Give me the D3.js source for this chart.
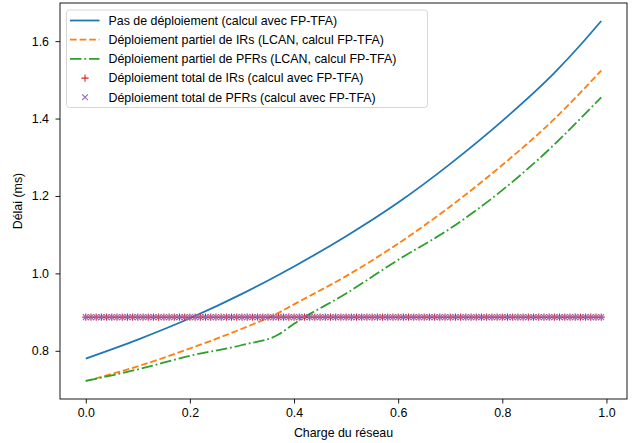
<!DOCTYPE html>
<html>
<head>
<meta charset="utf-8">
<script src="https://cdn.jsdelivr.net/npm/d3@7"></script>
<style>
  body { margin: 0; background: #fff; }
  svg { display: block; font-family: "Liberation Sans", Arial, Helvetica, sans-serif; }
</style>
</head>
<body>
<div id="chart"></div>
<script>
// valeurs
var charge = [0, 0.1, 0.2, 0.3, 0.37, 0.4, 0.5, 0.6, 0.7, 0.8, 0.9, 0.95, 0.99];
var pasDeploiement = [0.780, 0.829, 0.884, 0.947, 0.996, 1.018, 1.096, 1.183, 1.283, 1.394, 1.518, 1.590, 1.652];
var partielIR = [0.722, 0.760, 0.806, 0.857, 0.898, 0.920, 0.993, 1.077, 1.173, 1.280, 1.399, 1.467, 1.524];
var partielPFR = [0.722, 0.752, 0.787, 0.815, 0.842, 0.870, 0.948, 1.035, 1.116, 1.215, 1.333, 1.400, 1.455];
var totalCharge = d3.range(0, 100).map(function (i) { return i / 100; });
var totalIR = totalCharge.map(function () { return 0.887; });
var totalPFR = totalCharge.map(function () { return 0.887; });

var xTicks = [0, 0.2, 0.4, 0.6, 0.8, 1.0];
var yTicks = [0.8, 1.0, 1.2, 1.4, 1.6];

var labels = [
  "Pas de déploiement (calcul avec FP-TFA)",
  "Déploiement partiel de IRs (LCAN, calcul FP-TFA)",
  "Déploiement partiel de PFRs (LCAN, calcul FP-TFA)",
  "Déploiement total de IRs (calcul avec FP-TFA)",
  "Déploiement total de PFRs (calcul avec FP-TFA)"
];

var width = 632, height = 443;
var mLeft = 60, mRight = 627, mTop = 3, mBottom = 399;
var fontSize = 12.4;

var svg = d3.select("#chart").append("svg")
  .attr("width", width)
  .attr("height", height);

var x = d3.scaleLinear().domain([-0.0495, 1.0395]).range([mLeft, mRight]);
var y = d3.scaleLinear().domain([0.6755, 1.6985]).range([mBottom, mTop]);

// axes
var xAxis = d3.axisBottom(x).tickValues(xTicks).tickFormat(d3.format(".1f"))
  .tickSizeOuter(0).tickSize(4.5).tickPadding(4.5);
var yAxis = d3.axisLeft(y).tickValues(yTicks).tickFormat(d3.format(".1f"))
  .tickSizeOuter(0).tickSize(4.5).tickPadding(6.5);

var gx = svg.append("g").attr("transform", "translate(0," + mBottom + ")").call(xAxis);
var gy = svg.append("g").attr("transform", "translate(" + mLeft + ",0)").call(yAxis);
[gx, gy].forEach(function (g) {
  g.select(".domain").remove();
  g.selectAll("line").attr("stroke", "#000").attr("stroke-width", 0.9);
  g.selectAll("text").attr("fill", "#000").style("font-size", fontSize + "px").attr("font-family", null);
});

// cadre
svg.append("rect")
  .attr("x", mLeft).attr("y", mTop)
  .attr("width", mRight - mLeft).attr("height", mBottom - mTop)
  .attr("fill", "none").attr("stroke", "#000").attr("stroke-width", 0.9);

var plot = svg.append("g");

var series = [
  { values: pasDeploiement, color: "#1f77b4", dash: null },
  { values: partielIR, color: "#ff7f0e", dash: "6.7,2.9" },
  { values: partielPFR, color: "#2ca02c", dash: "11.5,2.9,1.8,2.9" }
];

var line = d3.line()
  .x(function (d) { return x(d[0]); })
  .y(function (d) { return y(d[1]); })
  .curve(d3.curveMonotoneX);

series.forEach(function (s) {
  plot.append("path")
    .datum(charge.map(function (c, i) { return [c, s.values[i]]; }))
    .attr("d", line)
    .attr("fill", "none")
    .attr("stroke", s.color)
    .attr("stroke-width", 1.8)
    .attr("stroke-dasharray", s.dash);
});

function plusPath(r) {
  return "M" + (-r) + ",0H" + r + "M0," + (-r) + "V" + r;
}
function crossPath(r) {
  return "M" + (-r) + "," + (-r) + "L" + r + "," + r + "M" + (-r) + "," + r + "L" + r + "," + (-r);
}

// marqueurs + (IRs)
plot.append("g").selectAll("path")
  .data(totalCharge)
  .join("path")
  .attr("transform", function (d, i) { return "translate(" + x(d) + "," + y(totalIR[i]) + ")"; })
  .attr("d", plusPath(3.6))
  .attr("stroke", "#d62728")
  .attr("stroke-width", 1.1)
  .attr("fill", "none");

// marqueurs x (PFRs)
plot.append("g").selectAll("path")
  .data(totalCharge)
  .join("path")
  .attr("transform", function (d, i) { return "translate(" + x(d) + "," + y(totalPFR[i]) + ")"; })
  .attr("d", crossPath(2.9))
  .attr("stroke", "#9467bd")
  .attr("stroke-width", 1.1)
  .attr("fill", "none");

// légende
var legend = svg.append("g");
legend.append("rect")
  .attr("x", 66.5).attr("y", 10)
  .attr("width", 361).attr("height", 97.5)
  .attr("rx", 3)
  .attr("fill", "#fff").attr("fill-opacity", 0.8)
  .attr("stroke", "#d6d6d6").attr("stroke-width", 1);

var rowY = d3.range(5).map(function (i) { return 20.5 + i * 19.2; });

series.forEach(function (s, i) {
  legend.append("line")
    .attr("x1", 70).attr("x2", 99.5)
    .attr("y1", rowY[i]).attr("y2", rowY[i])
    .attr("stroke", s.color).attr("stroke-width", 1.8)
    .attr("stroke-dasharray", s.dash);
});
legend.append("path")
  .attr("transform", "translate(85," + rowY[3] + ")")
  .attr("d", plusPath(3.6)).attr("stroke", "#d62728").attr("stroke-width", 1.1);
legend.append("path")
  .attr("transform", "translate(85," + rowY[4] + ")")
  .attr("d", crossPath(2.9)).attr("stroke", "#9467bd").attr("stroke-width", 1.1);

legend.selectAll("text.lab")
  .data(labels)
  .join("text")
  .attr("class", "lab")
  .attr("x", 108.5)
  .attr("y", function (d, i) { return rowY[i]; })
  .attr("dy", "0.35em")
  .style("font-size", fontSize + "px")
  .attr("fill", "#000")
  .text(function (d) { return d; });

// titres des axes
svg.append("text")
  .attr("x", (mLeft + mRight) / 2).attr("y", 437)
  .attr("text-anchor", "middle")
  .style("font-size", fontSize + "px")
  .text("Charge du réseau");

svg.append("text")
  .attr("transform", "translate(22," + ((mTop + mBottom) / 2) + ") rotate(-90)")
  .attr("text-anchor", "middle")
  .style("font-size", fontSize + "px")
  .text("Délai (ms)");
</script>
</body>
</html>
